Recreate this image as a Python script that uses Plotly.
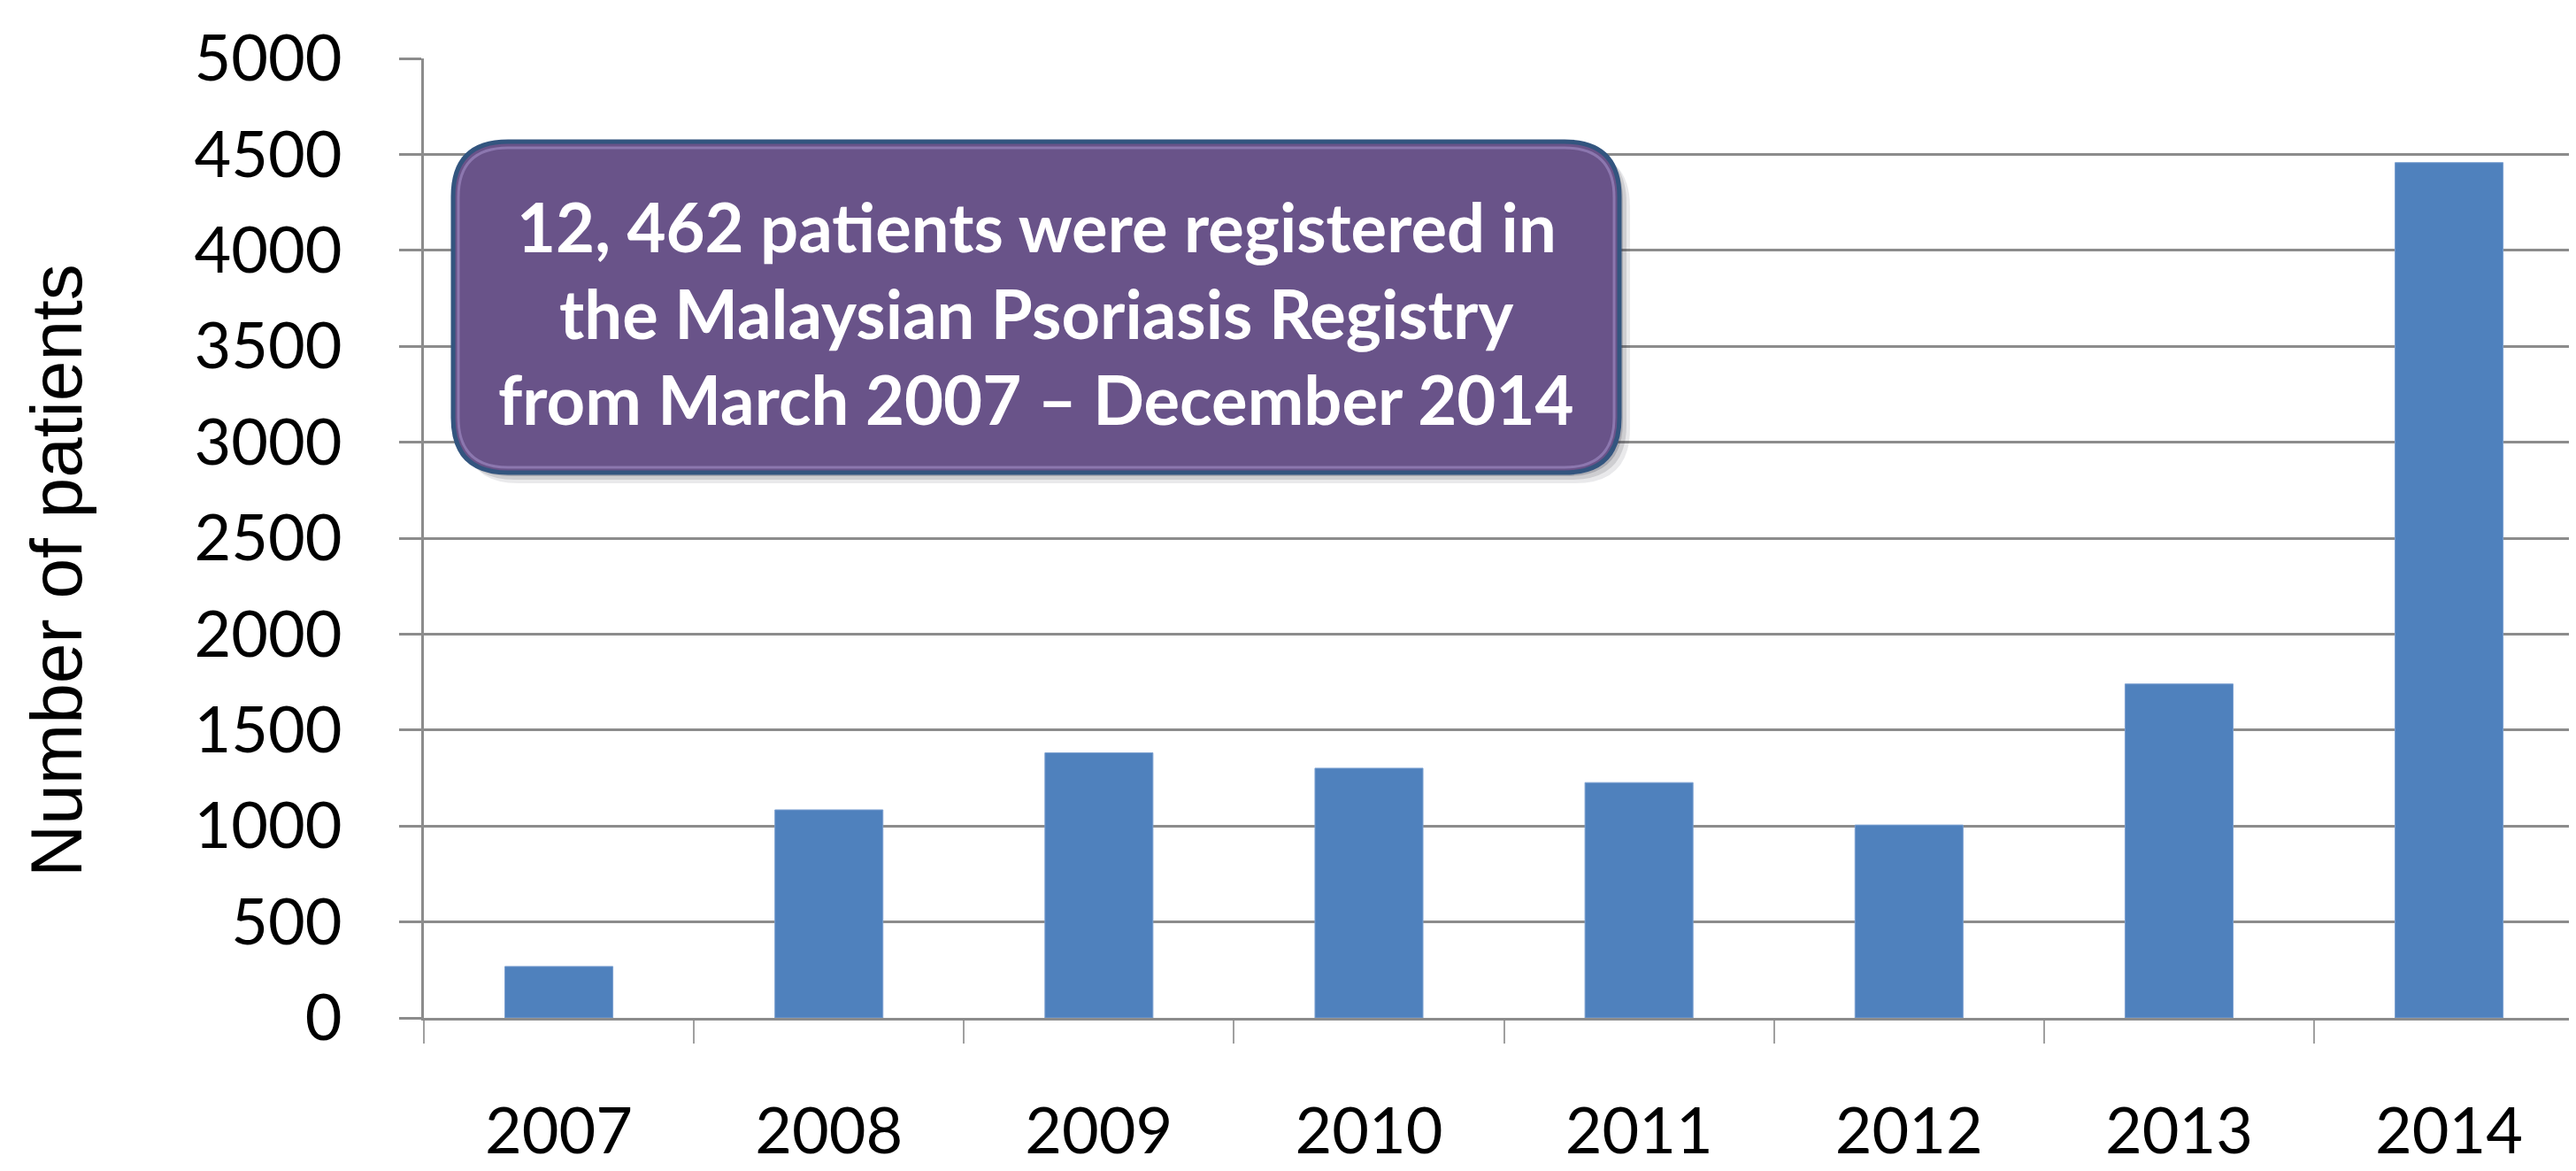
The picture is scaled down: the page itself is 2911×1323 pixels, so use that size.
import plotly.graph_objects as go

years = ["2007", "2008", "2009", "2010", "2011", "2012", "2013", "2014"]
patients = [268, 1084, 1381, 1301, 1226, 1005, 1740, 4457]
y_ticks = [0, 500, 1000, 1500, 2000, 2500, 3000, 3500, 4000, 4500, 5000]
box_lines = [
    "12, 462 patients were registered in",
    "the Malaysian Psoriasis Registry",
    "from March 2007 \u2013 December 2014",
]

# page has an 8px body margin, so the figure is drawn 8px in
OFF = 8
W, H = 2911 - OFF, 1323 - OFF
L, R, T, B = 479 - OFF, 0, 66 - OFF, 173
bar_color = "#4F81BD"
grid_color = "#8c8c8c"
box_fill = "#695389"
box_edge = "#33557f"


def px_to_paper(px, py):
    # pixel position in the page -> paper fraction of the plot area
    px, py = px - OFF, py - OFF
    return (px - L) / (W - L - R), (H - B - py) / (H - T - B)


def rounded_box(x0, y0, x1, y1, r):
    # corners in pixels, path in paper coords
    a0, b0 = px_to_paper(x0, y1)
    a1, b1 = px_to_paper(x1, y0)
    rx = r / (W - L - R)
    ry = r / (H - T - B)
    return (
        f"M {a0 + rx},{b0} L {a1 - rx},{b0} Q {a1},{b0} {a1},{b0 + ry} "
        f"L {a1},{b1 - ry} Q {a1},{b1} {a1 - rx},{b1} "
        f"L {a0 + rx},{b1} Q {a0},{b1} {a0},{b1 - ry} "
        f"L {a0},{b0 + ry} Q {a0},{b0} {a0 + rx},{b0} Z"
    )


fig = go.Figure(
    go.Bar(
        x=years,
        y=patients,
        marker=dict(color=bar_color, line=dict(color="#7a9fd0", width=1)),
    )
)

fig.update_xaxes(
    type="category",
    range=[-0.5, 7.47],
    automargin=False,
    showgrid=False,
    showline=True,
    linecolor=grid_color,
    linewidth=3,
    ticks="outside",
    tickson="boundaries",
    ticklen=26,
    tickwidth=2,
    tickcolor="#a0a0a0",
    tickfont=dict(family="Lato", size=72, color="black"),
    ticklabelstandoff=64,
)

fig.update_yaxes(
    range=[0, 5000],
    tickvals=y_ticks,
    automargin=False,
    showgrid=True,
    gridcolor=grid_color,
    gridwidth=2.5,
    showline=True,
    linecolor=grid_color,
    linewidth=3,
    zeroline=False,
    ticks="outside",
    ticklen=25,
    tickwidth=2.5,
    tickcolor=grid_color,
    tickfont=dict(family="Lato", size=72, color="black"),
    ticklabelstandoff=50,
)

# soft shadow under the callout
for off, op in [(12, 0.10), (8, 0.14), (4, 0.2)]:
    fig.add_shape(
        type="path",
        xref="paper",
        yref="paper",
        path=rounded_box(512 + off, 160 + off, 1830 + off, 534 + off, 62),
        fillcolor=f"rgba(40,40,60,{op})",
        line=dict(width=0),
        layer="above",
    )

fig.add_shape(
    type="path",
    xref="paper",
    yref="paper",
    path=rounded_box(512, 160, 1830, 534, 62),
    fillcolor=box_fill,
    line=dict(color=box_edge, width=5),
    layer="above",
)
# light inner rim on top
fig.add_shape(
    type="path",
    xref="paper",
    yref="paper",
    path=rounded_box(518, 167, 1824, 528, 56),
    fillcolor="rgba(0,0,0,0)",
    line=dict(color="rgba(170,150,205,0.55)", width=3),
    layer="above",
)

line_y = [256, 353, 450]
for txt, py in zip(box_lines, line_y):
    ax, ay = px_to_paper(1171, py)
    fig.add_annotation(
        x=ax,
        y=ay,
        xref="paper",
        yref="paper",
        text=f"<b>{txt}</b>",
        showarrow=False,
        font=dict(family="Lato", size=76, color="white"),
        xanchor="center",
        yanchor="middle",
    )

tx, ty = px_to_paper(64, 645)
fig.add_annotation(
    x=tx,
    y=ty,
    xref="paper",
    yref="paper",
    text="Number of patients",
    textangle=-90,
    showarrow=False,
    font=dict(family="Liberation Sans", size=82, color="black"),
    xanchor="center",
    yanchor="middle",
)

fig.update_layout(
    width=W,
    height=H,
    margin=dict(l=L, r=R, t=T, b=B, pad=0),
    plot_bgcolor="white",
    paper_bgcolor="white",
    bargap=0.6,
    showlegend=False,
)

fig.write_html("out.html")
